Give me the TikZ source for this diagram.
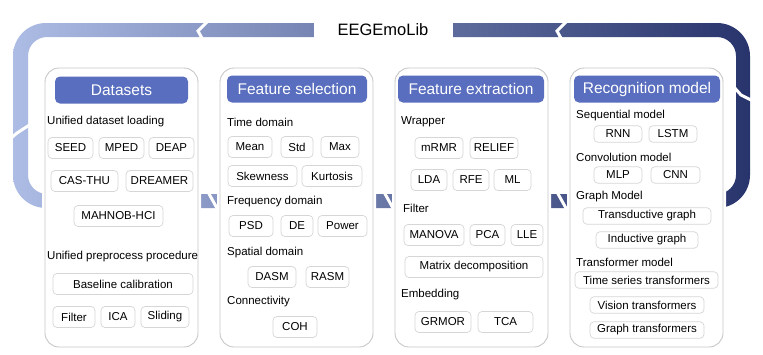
\documentclass[tikz,border=0pt]{standalone}
\usepackage{fontspec}
\setmainfont{Liberation Sans}
\definecolor{bandlight}{RGB}{172,188,228}
\definecolor{banddark}{RGB}{40,52,108}
\definecolor{headblue}{RGB}{89,110,190}
\definecolor{panelgray}{RGB}{200,200,200}
\definecolor{itemgray}{RGB}{214,214,214}

\begin{document}
\begin{tikzpicture}[
  x=1pt, y=-1pt,
  panel/.style={draw=panelgray, line width=0.9pt, fill=white, rounded corners=14pt,
    minimum width=153pt, minimum height=279pt, preaction={draw=white, line width=6pt}},
  header/.style={fill=headblue, rounded corners=5pt, text=white, inner sep=0pt,
    font=\fontsize{15.5}{18}\selectfont, minimum height=27pt},
  item/.style={draw=itemgray, line width=0.7pt, fill=white, rounded corners=4pt, inner sep=0pt,
    font=\fontsize{11.5}{13}\selectfont, minimum height=21pt},
  small/.style={item, minimum height=16.5pt},
  group/.style={anchor=west, inner sep=0pt, font=\fontsize{11.5}{13}\selectfont},
  cut/.style={draw=white, line width=3pt},
]
  \useasboundingbox (0,0) rectangle (763,354);

  % the loop band behind the panels
  \shade[left color=bandlight, right color=banddark, even odd rule]
    [rounded corners=33pt] (13,23) rectangle (750,208)
    [rounded corners=19pt] (28,37) rectangle (736,194);
  \draw[cut] (209,20) -- (198,31) -- (203,40);
  \draw[cut] (568,20) -- (557,31) -- (562,40);
  \draw[cut] (10,139) -- (17,133) -- (31,124);
  \draw[cut] (733,86) -- (741,95) -- (753,101);
  \foreach \c in {213,389,562}
    \draw[cut] (\c-5,192) -- (\c+5,210);
  \node[fill=white, minimum width=139pt, minimum height=20pt,
    font=\fontsize{16.5}{19}\selectfont] (title) at (383,30) {EEGEmoLib};

  \foreach \p/\x in {1/121.5, 2/296.5, 3/471.5, 4/646.5}
    \node[panel] (panel\p) at (\x,207.5) {};

  \node[header, minimum width=133pt] (head1) at (121.5,90) {Datasets};
  \node[header, minimum width=140pt] (head2) at (297,89) {Feature selection};
  \node[header, minimum width=146pt] (head3) at (471,89) {Feature extraction};
  \node[header, minimum width=146pt] (head4) at (647,89) {Recognition model};

  % group labels
  \foreach \n/\x/\y/\t in {load/47/122/Unified dataset loading,
      prep/47/257/Unified preprocess procedure,
      time/227/122/Time domain, freq/227/202/Frequency domain,
      spat/227/253/Spatial domain, conn/227/302/Connectivity,
      wrap/401/122/Wrapper, filt/403/208/Filter, embd/401/295/Embedding,
      seq/576/116/Sequential model, conv/576/157/Convolution model,
      graph/576/197/Graph Model, trf/576/262/Transformer model}
    \node[group] (\n) at (\x,\y) {\t};

  % datasets
  \foreach \n/\x/\y/\w/\t in {seed/70.5/148/45/SEED, mped/121.5/148/45/MPED,
      deap/171.5/148/45/DEAP, casthu/84.5/181/67/CAS-THU,
      dreamer/159.5/181/67/DREAMER, mahnob/118.5/216/89/MAHNOB-HCI,
      base/123/284/140/Baseline calibration, filter/74/317/42/Filter,
      ica/118/317/34/ICA, slide/165/317/48/Sliding}
    \node[item, minimum width=\w pt] (\n) at (\x,\y) {\t};

  % feature selection
  \foreach \n/\x/\y/\w/\t in {mean/250/147/44/Mean, std/297/147/32/Std,
      max/340/147/38/Max, skew/262.5/176/69/Skewness, kurt/332/176/60/Kurtosis,
      psd/251/226/44/PSD, de/297/226/32/DE, power/342.5/226/49/Power,
      dasm/272/277/48/DASM, rasm/327.5/277/43/RASM, coh/295/327/44/COH}
    \node[item, minimum width=\w pt] (\n) at (\x,\y) {\t};

  % feature extraction
  \foreach \n/\x/\y/\w/\t in {mrmr/439/148/48/mRMR, relief/494/148/48/RELIEF,
      lda/429/180/36/LDA, rfe/471/180/36/RFE, ml/512.5/180/37/ML,
      manova/434/235/60/MANOVA, pca/487.5/235/35/PCA, lle/527/235/32/LLE,
      matrix/474/267/138/Matrix decomposition,
      grmor/443/322/56/GRMOR, tca/505.5/322/55/TCA}
    \node[item, minimum width=\w pt] (\n) at (\x,\y) {\t};

  % recognition model
  \foreach \n/\x/\y/\w/\t in {rnn/618/134/48/RNN, lstm/673/134/48/LSTM,
      mlp/618/175/48/MLP, cnn/675.5/175/49/CNN,
      tdg/647/216/128/Transductive graph, idg/647/240/102/Inductive graph,
      tst/646.5/280/143/Time series transformers,
      vit/647/305/114/Vision transformers, gtr/647/330/114/Graph transformers}
    \node[small, minimum width=\w pt] (\n) at (\x,\y) {\t};
\end{tikzpicture}
\end{document}
